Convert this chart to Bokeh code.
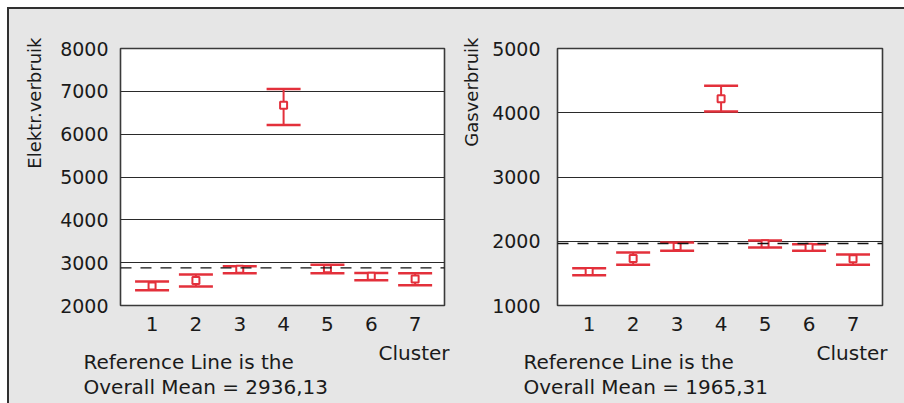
import math
from bokeh.plotting import figure
from bokeh.layouts import row, column
from bokeh.models import (ColumnDataSource, Whisker, TeeHead, Span, Title,
                          FixedTicker, Range1d, Spacer)
from bokeh.embed import file_html
from bokeh.resources import INLINE

# ---- data ----
clusters = [1, 2, 3, 4, 5, 6, 7]
elec_mean = [2458, 2581, 2844, 6674, 2860, 2682, 2620]
elec_lower = [2356, 2442, 2751, 6216, 2751, 2588, 2472]
elec_upper = [2558, 2721, 2914, 7053, 2953, 2760, 2751]
elec_ref_line = 2880
elec_ref_text = "2936,13"
elec_ticks = [2000, 3000, 4000, 5000, 6000, 7000, 8000]

gas_mean = [1529, 1731, 1918, 4217, 1960, 1907, 1727]
gas_lower = [1472, 1633, 1851, 4019, 1903, 1851, 1633]
gas_upper = [1581, 1825, 1981, 4419, 2012, 1954, 1794]
gas_ref_line = 1965.31
gas_ref_text = "1965,31"
gas_ticks = [1000, 2000, 3000, 4000, 5000]

RED = "#e3303b"
BG = "#e6e6e6"
DARK = "#303030"
FONT = "DejaVu Sans"
TXT = "#1a1a1a"


def panel(width, mb_left, mb_right, ymin, ymax, ticks, mean, lower, upper,
          ref, ref_text, ylabel, ystandoff, title_standoff, ref_offset):
    p = figure(width=width, height=394, output_backend="svg",
               toolbar_location=None, x_range=Range1d(0.28, 7.67),
               y_range=Range1d(ymin, ymax),
               min_border_left=mb_left, min_border_right=mb_right,
               min_border_top=39, min_border_bottom=98)
    p.background_fill_color = "white"
    p.border_fill_color = BG
    p.outline_line_color = "#3a3a3a"
    p.outline_line_width = 1.6

    for ax in (p.xaxis[0], p.yaxis[0]):
        ax.axis_line_color = None
        ax.major_tick_line_color = None
        ax.minor_tick_line_color = None
        ax.major_label_text_font = FONT
        ax.major_label_text_color = TXT
    p.xaxis.ticker = FixedTicker(ticks=clusters)
    p.yaxis.ticker = FixedTicker(ticks=ticks)
    p.xaxis.major_label_text_font_size = "20px"
    p.yaxis.major_label_text_font_size = "19px"
    p.xaxis.major_label_standoff = 5
    p.yaxis.major_label_standoff = ystandoff

    p.xgrid.grid_line_color = None
    p.ygrid.ticker = FixedTicker(ticks=ticks[1:-1])
    p.ygrid.grid_line_color = "#2a2a2a"
    p.ygrid.grid_line_width = 1.2

    src = ColumnDataSource(dict(x=clusters, mean=mean, lower=lower, upper=upper))
    p.add_layout(Span(location=ref, dimension="width", line_color="#111111",
                      line_width=1.3, line_dash="11 9"))
    w = Whisker(base="x", upper="upper", lower="lower", source=src,
                line_color=RED, line_width=2,
                upper_head=TeeHead(size=34, line_color=RED, line_width=2.5),
                lower_head=TeeHead(size=34, line_color=RED, line_width=2.5))
    p.add_layout(w)
    p.scatter("x", "mean", source=src, marker="square", size=7,
              fill_color="white", line_color=RED, line_width=2)

    p.add_layout(Title(text=ylabel, align="right", offset=-11,
                       standoff=title_standoff,
                       text_font=FONT, text_font_size="18px",
                       text_font_style="normal", text_color=TXT), "left")
    p.add_layout(Title(text="Cluster", align="right", offset=-5, standoff=11.25,
                       text_font=FONT, text_font_size="20px",
                       text_font_style="normal", text_color=TXT), "below")
    p.add_layout(Title(text="Reference Line is the", align="left",
                       vertical_align="top",
                       offset=ref_offset, standoff=-41.5,
                       text_font=FONT, text_font_size="20px",
                       text_font_style="normal", text_color=TXT), "below")
    p.add_layout(Title(text="Overall Mean = " + ref_text, align="left",
                       vertical_align="bottom",
                       offset=ref_offset, standoff=5,
                       text_font=FONT, text_font_size="20px",
                       text_font_style="normal", text_color=TXT), "below")
    return p


p1 = panel(441, 111, 6, 2000, 8000, elec_ticks, elec_mean, elec_lower,
           elec_upper, elec_ref_line, elec_ref_text, "Elektr.verbruik",
           6, 25, -37)
p2 = panel(454, 107, 22, 1000, 5000, gas_ticks, gas_mean, gas_lower,
           gas_upper, gas_ref_line, gas_ref_text, "Gasverbruik",
           11, 16, -34)

left_line = Spacer(width=2, height=396, styles={"background-color": DARK})
top_line = Spacer(width=895, height=2, styles={"background-color": DARK})

inner = row(p1, p2, styles={"background-color": BG})
layout = row(left_line, column(top_line, inner, styles={"background-color": BG}),
             margin=(7, 0, 0, 7))

open("out.html", "w").write(file_html(layout, INLINE))
